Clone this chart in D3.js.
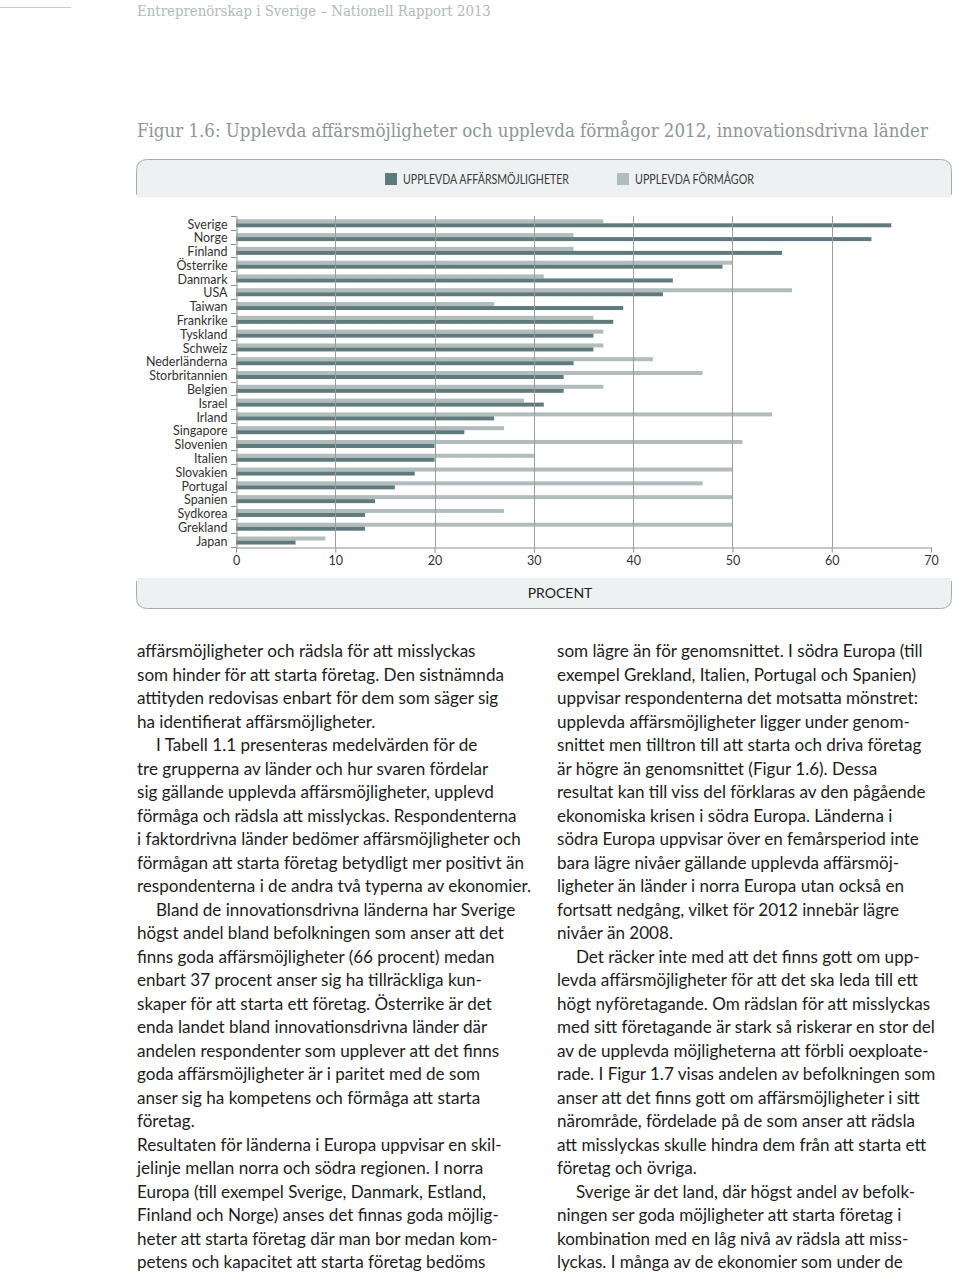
<!DOCTYPE html>
<html><head><meta charset="utf-8">
<script src="https://cdn.jsdelivr.net/npm/d3@7"></script>
<style>
html,body{margin:0;padding:0;background:#fff;}
svg{display:block;}
</style></head>
<body>
<script>
// ---------- DATA ----------
const countries = ["Sverige","Norge","Finland","Österrike","Danmark","USA","Taiwan","Frankrike","Tyskland","Schweiz","Nederländerna","Storbritannien","Belgien","Israel","Irland","Singapore","Slovenien","Italien","Slovakien","Portugal","Spanien","Sydkorea","Grekland","Japan"];
const opportunities = [66,64,55,49,44,43,39,38,36,36,34,33,33,31,26,23,20,20,18,16,14,13,13,6];
const capabilities  = [37,34,34,50,31,56,26,36,37,37,42,47,37,29,54,27,51,30,50,47,50,27,50,9];
const seriesNames = ["UPPLEVDA AFFÄRSMÖJLIGHETER","UPPLEVDA FÖRMÅGOR"];
const xTicks = [0,10,20,30,40,50,60,70];
const axisTitle = "PROCENT";
const headerText = "Entreprenörskap i Sverige – Nationell Rapport 2013";
const titleText = "Figur 1.6: Upplevda affärsmöjligheter och upplevda förmågor 2012, innovationsdrivna länder";
const leftColumn = [
 "affärsmöjligheter och rädsla för att misslyckas",
 "som hinder för att starta företag. Den sistnämnda",
 "attityden redovisas enbart för dem som säger sig",
 "ha identifierat affärsmöjligheter.",
 "\tI Tabell 1.1 presenteras medelvärden för de",
 "tre grupperna av länder och hur svaren fördelar",
 "sig gällande upplevda affärsmöjligheter, upplevd",
 "förmåga och rädsla att misslyckas. Respondenterna",
 "i faktordrivna länder bedömer affärsmöjligheter och",
 "förmågan att starta företag betydligt mer positivt än",
 "respondenterna i de andra två typerna av ekonomier.",
 "\tBland de innovationsdrivna länderna har Sverige",
 "högst andel bland befolkningen som anser att det",
 "finns goda affärsmöjligheter (66 procent) medan",
 "enbart 37 procent anser sig ha tillräckliga kun-",
 "skaper för att starta ett företag. Österrike är det",
 "enda landet bland innovationsdrivna länder där",
 "andelen respondenter som upplever att det finns",
 "goda affärsmöjligheter är i paritet med de som",
 "anser sig ha kompetens och förmåga att starta",
 "företag.",
 "Resultaten för länderna i Europa uppvisar en skil-",
 "jelinje mellan norra och södra regionen. I norra",
 "Europa (till exempel Sverige, Danmark, Estland,",
 "Finland och Norge) anses det finnas goda möjlig-",
 "heter att starta företag där man bor medan kom-",
 "petens och kapacitet att starta företag bedöms"
];
const rightColumn = [
 "som lägre än för genomsnittet. I södra Europa (till",
 "exempel Grekland, Italien, Portugal och Spanien)",
 "uppvisar respondenterna det motsatta mönstret:",
 "upplevda affärsmöjligheter ligger under genom-",
 "snittet men tilltron till att starta och driva företag",
 "är högre än genomsnittet (Figur 1.6). Dessa",
 "resultat kan till viss del förklaras av den pågående",
 "ekonomiska krisen i södra Europa. Länderna i",
 "södra Europa uppvisar över en femårsperiod inte",
 "bara lägre nivåer gällande upplevda affärsmöj-",
 "ligheter än länder i norra Europa utan också en",
 "fortsatt nedgång, vilket för 2012 innebär lägre",
 "nivåer än 2008.",
 "\tDet räcker inte med att det finns gott om upp-",
 "levda affärsmöjligheter för att det ska leda till ett",
 "högt nyföretagande. Om rädslan för att misslyckas",
 "med sitt företagande är stark så riskerar en stor del",
 "av de upplevda möjligheterna att förbli oexploate-",
 "rade. I Figur 1.7 visas andelen av befolkningen som",
 "anser att det finns gott om affärsmöjligheter i sitt",
 "närområde, fördelade på de som anser att rädsla",
 "att misslyckas skulle hindra dem från att starta ett",
 "företag och övriga.",
 "\tSverige är det land, där högst andel av befolk-",
 "ningen ser goda möjligheter att starta företag i",
 "kombination med en låg nivå av rädsla att miss-",
 "lyckas. I många av de ekonomier som under de"
];

// ---------- STYLE ----------
const W = 960, H = 1274;
const darkColor = "#5e7a7a", lightColor = "#b1bdbc";
const sans = "Lato, 'Open Sans', sans-serif";
const serif = "'DejaVu Serif Condensed', 'DejaVu Serif', serif";

const svg = d3.select("body").append("svg").attr("width", W).attr("height", H);

function fitWidth(sel, target){
  const fs = parseFloat(sel.attr("font-size"));
  const w = sel.node().getComputedTextLength();
  sel.attr("font-size", (fs * target / w).toFixed(2));
}
function squeeze(sel, target){
  sel.attr("textLength", target).attr("lengthAdjust","spacingAndGlyphs");
}

// header
svg.append("line").attr("x1",0).attr("x2",71).attr("y1",7.5).attr("y2",7.5)
  .attr("stroke","#c3c9c9").attr("stroke-width",1);
const hdr = svg.append("text").attr("x",137).attr("y",16).attr("font-family",serif)
  .attr("font-size",15).attr("font-weight",300).attr("fill","#b2baba").text(headerText);
fitWidth(hdr, 354);

const ttl = svg.append("text").attr("x",137).attr("y",137).attr("font-family",serif)
  .attr("font-size",19).attr("font-weight",300).attr("fill","#8c9696").text(titleText);
fitWidth(ttl, 791);

// panel
const bx0 = 136.5, bx1 = 951.5, r = 11;
const topY0 = 159.5, topY1 = 197.5, botY0 = 578, botY1 = 608.5;
svg.append("path")
  .attr("d", `M${bx0},${topY1} L${bx0},${topY0+r} Q${bx0},${topY0} ${bx0+r},${topY0} L${bx1-r},${topY0} Q${bx1},${topY0} ${bx1},${topY0+r} L${bx1},${topY1} Z`)
  .attr("fill","#eef1f2").attr("stroke","none");
svg.append("path")
  .attr("d", `M${bx0},${topY1-3} L${bx0},${topY0+r} Q${bx0},${topY0} ${bx0+r},${topY0} L${bx1-r},${topY0} Q${bx1},${topY0} ${bx1},${topY0+r} L${bx1},${topY1-3}`)
  .attr("fill","none").attr("stroke","#a7aeae").attr("stroke-width",1);
svg.append("path")
  .attr("d", `M${bx0},${botY0} L${bx0},${botY1-r} Q${bx0},${botY1} ${bx0+r},${botY1} L${bx1-r},${botY1} Q${bx1},${botY1} ${bx1},${botY1-r} L${bx1},${botY0} Z`)
  .attr("fill","#eef1f2").attr("stroke","none");
svg.append("path")
  .attr("d", `M${bx0},${botY0+3} L${bx0},${botY1-r} Q${bx0},${botY1} ${bx0+r},${botY1} L${bx1-r},${botY1} Q${bx1},${botY1} ${bx1},${botY1-r} L${bx1},${botY0+3}`)
  .attr("fill","none").attr("stroke","#a7aeae").attr("stroke-width",1);

// legend
const legItems = [{name:seriesNames[0], color:darkColor, x:385, w:166},{name:seriesNames[1], color:lightColor, x:617, w:119}];
legItems.forEach(d=>{
  svg.append("rect").attr("x",d.x).attr("y",173).attr("width",12).attr("height",12).attr("fill",d.color);
  const t = svg.append("text").attr("x",d.x+18).attr("y",183.5).attr("font-family",sans)
    .attr("font-size",12.5).attr("fill","#3a3a3a").text(d.name);
  squeeze(t, d.w);
});

// scales
const x = d3.scaleLinear().domain([0,70]).range([236,931]);
const y = d3.scaleBand().domain(countries).range([216,547]);
const sub = d3.scaleBand().domain(["cap","opp"]).range([0,y.bandwidth()]).paddingOuter(0.72).align(0.57);

const rows = countries.map((c,i)=>({c, opp:opportunities[i], cap:capabilities[i]}));
const g = svg.append("g");
g.selectAll("rect.cap").data(rows).join("rect").attr("class","cap")
  .attr("x",x(0)).attr("y",d=>y(d.c)+sub("cap")).attr("height",sub.bandwidth())
  .attr("width",d=>x(d.cap)-x(0)).attr("fill",lightColor);
g.selectAll("rect.opp").data(rows).join("rect").attr("class","opp")
  .attr("x",x(0)).attr("y",d=>y(d.c)+sub("opp")).attr("height",sub.bandwidth())
  .attr("width",d=>x(d.opp)-x(0)).attr("fill",darkColor);

// gridlines
svg.append("g").selectAll("line").data(xTicks.filter(v=>v>0 && v<70)).join("line")
  .attr("x1",d=>Math.round(x(d))+0.5).attr("x2",d=>Math.round(x(d))+0.5)
  .attr("y1",216).attr("y2",547).attr("stroke","#9c9c9c").attr("stroke-width",1);

// x axis
const xAxis = svg.append("g").attr("transform","translate(0,547.5)")
  .call(d3.axisBottom(x).tickValues(xTicks).tickSize(5).tickPadding(4).tickSizeOuter(0));
xAxis.select(".domain").attr("stroke","#8f8f8f");
xAxis.selectAll(".tick line").attr("stroke","#8f8f8f");
xAxis.selectAll("text").attr("font-family",sans).attr("font-size",12.5).attr("fill","#333");

// y axis
const yAxis = svg.append("g").attr("transform","translate(236.5,0)")
  .call(d3.axisLeft(y).tickSize(0).tickPadding(9));
yAxis.select(".domain").attr("stroke","#8f8f8f");
yAxis.selectAll("text").attr("font-family",sans).attr("font-size",12.5).attr("fill","#333").attr("dy","0.45em");
const bounds = countries.map(c=>y(c)).concat([y.range()[1]]);
svg.append("g").selectAll("line").data(bounds).join("line")
  .attr("x1",231).attr("x2",236.5).attr("y1",d=>Math.round(d)+0.5).attr("y2",d=>Math.round(d)+0.5)
  .attr("stroke","#8f8f8f");

// axis title
svg.append("text").attr("x",560).attr("y",598).attr("text-anchor","middle")
  .attr("font-family",sans).attr("font-size",14).attr("fill","#222").text(axisTitle);

// body text: Calibri-like proportions -> larger size, horizontally condensed
const lh = 23.5, base0 = 657, bodySize = 17.8;
const probe = svg.append("text").attr("font-family",sans).attr("font-size",bodySize)
  .text(leftColumn[10]);
const k = 394 / probe.node().getComputedTextLength();
probe.remove();
function column(lines, x0){
  svg.append("g").selectAll("text").data(lines).join("text")
    .attr("x",d=>d.startsWith("\t") ? x0+19 : x0)
    .attr("y",(d,i)=>base0+i*lh)
    .attr("font-family",sans).attr("font-size",bodySize).attr("fill","#1c1c1c")
    .text(d=>d.replace("\t",""))
    .each(function(){
      const w = this.getComputedTextLength();
      d3.select(this).attr("textLength", (w*k).toFixed(2)).attr("lengthAdjust","spacingAndGlyphs");
    });
}
column(leftColumn, 137);
column(rightColumn, 557);
</script>
</body></html>
